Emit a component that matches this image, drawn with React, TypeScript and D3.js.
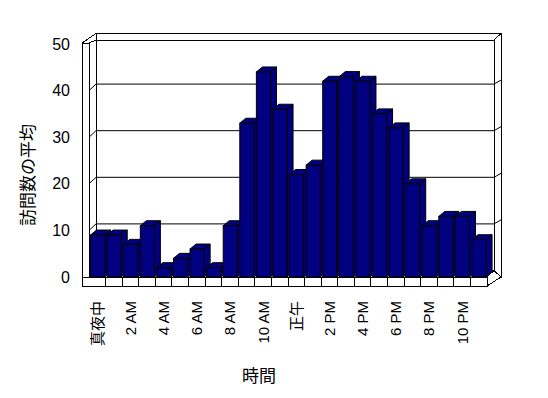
import React from "react";
import * as d3 from "d3";

// 時間帯ごとの平均訪問数
const hours = d3.range(24);
const visits = [9, 9, 7, 11, 2, 4, 6, 2, 11, 33, 44, 36, 22, 24, 42, 43, 42, 35, 32, 20, 11, 13, 13, 8];
const hourLabels = ["真夜中", "2 AM", "4 AM", "6 AM", "8 AM", "10 AM", "正午", "2 PM", "4 PM", "6 PM", "8 PM", "10 PM"];
const yTicks = [0, 10, 20, 30, 40, 50];

const W = 548;
const H = 398;
const font = "'Liberation Sans', Arial, 'Noto Sans CJK JP', sans-serif";
const navy = "#000080";

const App = () => {
  const x = d3.scaleBand<number>().domain(hours).range([89, 487]).padding(0);
  const y = d3.scaleLinear().domain([0, 50]).range([277, 44]);

  // depth offsets
  const wall = { dx: 7, dy: -6.5 };
  const bar = { dx: 6, dy: -5 };
  const wallThick = 7;
  const floorThick = 9;

  const x0 = x.range()[0];
  const x1 = x.range()[1];
  const yb = y(0);
  const yt = y(50);
  const backL = x0 + wall.dx;
  const backR = x1 + wall.dx;
  const backTop = yt - 4;
  const backBot = yb + wall.dy;
  const outerL = x0 - wallThick;
  const outerR = backR + wallThick;
  const outerTop = backTop - 6.5;

  const bw = x.bandwidth() * 0.85;
  const off = (x.bandwidth() - bw) * 0.5 + 0.3;

  const line = (pts: [number, number][]) => "M" + pts.map((p) => p.join(",")).join("L");

  return (
    <svg
      width={W}
      height={H}
      style={{ position: "absolute", left: 0, top: 0, background: "#fff" }}
      shapeRendering="crispEdges"
    >
      <g fill="#fff" stroke="#000" strokeWidth={1}>
        {/* back wall */}
        <path d={line([[backL, outerTop], [outerR, outerTop], [outerR, yb], [backR, backBot], [backL, backBot], [backL, outerTop]])} />
        <rect x={backL} y={backTop} width={backR - backL} height={backBot - backTop} />
        <path d={line([[backR, backTop], [outerR, outerTop]])} fill="none" />
        {/* left wall */}
        <path d={line([[outerL, yt - 1], [x0, yt - 1], [backL, backTop], [backL, outerTop], [outerL, yt - 1]])} />
        <rect x={outerL} y={yt - 1} width={x0 - outerL} height={yb + floorThick - (yt - 1)} />
        {/* floor */}
        <path d={line([[x0, yb], [x1, yb], [backR, backBot], [backL, backBot], [x0, yb]])} />
        <path d={line([[x1, yb], [x1, yb + floorThick], [outerR, yb], [backR, backBot], [x1, yb]])} />
        <rect x={outerL} y={yb} width={x1 - outerL} height={floorThick} />
      </g>

      {/* gridlines on walls */}
      <g stroke="#000" fill="none" shapeRendering="auto">
        {yTicks.slice(1, -1).map((t) => (
          <path
            key={t}
            d={line([
              [x0, y(t)],
              [backL, y(t) + wall.dy],
              [backR, y(t) + wall.dy],
              [outerR, y(t) + wall.dy - 4],
            ])}
          />
        ))}
      </g>

      {/* category ticks on floor front */}
      <g stroke="#000">
        {hours.slice(1).map((h) => (
          <line key={h} x1={x(h)} x2={x(h)} y1={yb} y2={yb + floorThick} />
        ))}
      </g>

      {/* bars */}
      <g fill={navy} stroke="#000" strokeWidth={1} shapeRendering="auto">
        {hours.map((h, i) => {
          const bx = (x(h) as number) + off;
          const top = y(visits[i]);
          return (
            <g key={h}>
              <path d={line([[bx + bw, top], [bx + bw + bar.dx, top + bar.dy], [bx + bw + bar.dx, yb + bar.dy], [bx + bw, yb]]) + "Z"} />
              <path d={line([[bx, top], [bx + bar.dx, top + bar.dy], [bx + bw + bar.dx, top + bar.dy], [bx + bw, top]]) + "Z"} />
              <rect x={bx} y={top} width={bw} height={yb - top} />
            </g>
          );
        })}
      </g>

      {/* y tick labels */}
      <g fontFamily={font} fontSize={16} textAnchor="end">
        {yTicks.map((t) => (
          <text key={t} x={70} y={y(t)} dy="0.35em">
            {t}
          </text>
        ))}
      </g>

      {/* x tick labels */}
      <g fontFamily={font} fontSize={15} textAnchor="end">
        {hourLabels.map((lab, i) => {
          const cx = (x(i * 2) as number) + x.bandwidth() / 2;
          return (
            <text key={lab} transform={`translate(${cx},301) rotate(-90)`} dy="0.36em">
              {lab}
            </text>
          );
        })}
      </g>

      {/* axis titles */}
      <text x={259} y={382} fontFamily={font} fontSize={17} textAnchor="middle">
        時間
      </text>
      <text transform="translate(28,175) rotate(-90)" dy="0.36em" fontFamily={font} fontSize={17} textAnchor="middle">
        訪問数の平均
      </text>
    </svg>
  );
};

export default App;
